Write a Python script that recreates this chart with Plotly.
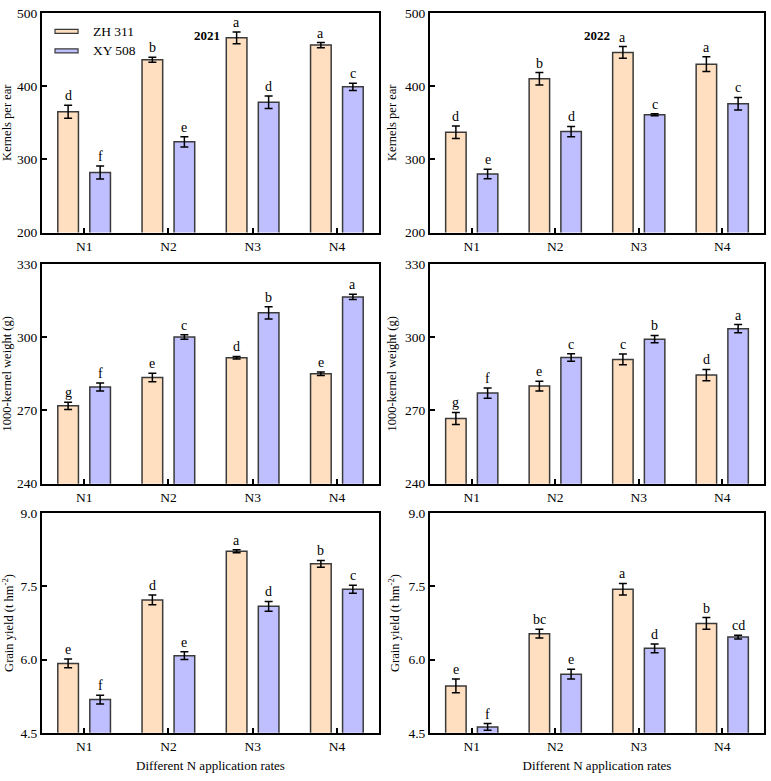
import plotly.graph_objects as go

# ---------------- data ----------------
categories = ["N1", "N2", "N3", "N4"]
cultivars = ["ZH 311", "XY 508"]
years = ["2021", "2022"]

# Kernels per ear
kpe_2021_zh = [365, 436, 466, 456]
kpe_2021_zh_err = [9, 3.5, 8, 3.5]
kpe_2021_xy = [282, 324, 378, 399]
kpe_2021_xy_err = [9, 7, 8.5, 5]
kpe_2021_zh_lbl = ["d", "b", "a", "a"]
kpe_2021_xy_lbl = ["f", "e", "d", "c"]

kpe_2022_zh = [337, 410, 446, 430]
kpe_2022_zh_err = [8.5, 8.5, 8, 10]
kpe_2022_xy = [280, 338, 361, 376]
kpe_2022_xy_err = [6.5, 7, 1.3, 8.5]
kpe_2022_zh_lbl = ["d", "b", "a", "a"]
kpe_2022_xy_lbl = ["e", "d", "c", "c"]

# 1000-kernel weight (g)
tkw_2021_zh = [271.9, 283.5, 291.6, 285.0]
tkw_2021_zh_err = [1.5, 1.7, 0.5, 0.7]
tkw_2021_xy = [279.6, 300.1, 310.0, 316.5]
tkw_2021_xy_err = [1.6, 0.9, 2.5, 1.1]
tkw_2021_zh_lbl = ["g", "e", "d", "e"]
tkw_2021_xy_lbl = ["f", "c", "b", "a"]

tkw_2022_zh = [266.7, 280.0, 290.9, 284.5]
tkw_2022_zh_err = [2.5, 2.0, 2.2, 2.3]
tkw_2022_xy = [277.1, 291.7, 299.2, 303.5]
tkw_2022_xy_err = [2.1, 1.5, 1.5, 1.7]
tkw_2022_zh_lbl = ["g", "e", "c", "d"]
tkw_2022_xy_lbl = ["f", "c", "b", "a"]

# Grain yield (t hm-2)
gy_2021_zh = [5.92, 7.22, 8.22, 7.96]
gy_2021_zh_err = [0.09, 0.10, 0.03, 0.07]
gy_2021_xy = [5.18, 6.08, 7.09, 7.44]
gy_2021_xy_err = [0.09, 0.08, 0.10, 0.08]
gy_2021_zh_lbl = ["e", "d", "a", "b"]
gy_2021_xy_lbl = ["f", "e", "d", "c"]

gy_2022_zh = [5.46, 6.53, 7.44, 6.74]
gy_2022_zh_err = [0.14, 0.09, 0.12, 0.12]
gy_2022_xy = [4.62, 5.70, 6.23, 6.46]
gy_2022_xy_err = [0.07, 0.10, 0.09, 0.04]
gy_2022_zh_lbl = ["e", "bc", "a", "b"]
gy_2022_xy_lbl = ["f", "e", "d", "cd"]

y_titles = ["Kernels per ear", "1000-kernel weight (g)", "Grain yield (t hm<sup>-2</sup>)"]
y_ranges = [[200, 500], [240, 330], [4.5, 9.0]]
y_ticks = [[200, 300, 400, 500], [240, 270, 300, 330], [4.5, 6.0, 7.5, 9.0]]
y_tickfmt = ["d", "d", ".1f"]
x_title = "Different N application rates"

panels = [
    [(kpe_2021_zh, kpe_2021_zh_err, kpe_2021_zh_lbl, kpe_2021_xy, kpe_2021_xy_err, kpe_2021_xy_lbl),
     (kpe_2022_zh, kpe_2022_zh_err, kpe_2022_zh_lbl, kpe_2022_xy, kpe_2022_xy_err, kpe_2022_xy_lbl)],
    [(tkw_2021_zh, tkw_2021_zh_err, tkw_2021_zh_lbl, tkw_2021_xy, tkw_2021_xy_err, tkw_2021_xy_lbl),
     (tkw_2022_zh, tkw_2022_zh_err, tkw_2022_zh_lbl, tkw_2022_xy, tkw_2022_xy_err, tkw_2022_xy_lbl)],
    [(gy_2021_zh, gy_2021_zh_err, gy_2021_zh_lbl, gy_2021_xy, gy_2021_xy_err, gy_2021_xy_lbl),
     (gy_2022_zh, gy_2022_zh_err, gy_2022_zh_lbl, gy_2022_xy, gy_2022_xy_err, gy_2022_xy_lbl)],
]

# ---------------- style ----------------
W, H = 771, 781
FONT = "Liberation Serif"
fill_colors = ["#FFDFBF", "#BFBFFF"]
edge_color = "#3a3a3a"
bar_offset = 0.19  # half distance between grouped bar centres (category units)

x_px = [(42, 379), (430, 764)]
y_px = [(6, 230), (262, 486), (516, 740)]

fig = go.Figure()
layout = dict(
    width=W, height=H,
    margin=dict(l=0, r=0, t=0, b=0),
    paper_bgcolor="white", plot_bgcolor="white",
    barmode="group", bargap=0.24, bargroupgap=0.355,
    showlegend=False,
    font=dict(family=FONT, size=13, color="black"),
)
annotations = []
shapes = []

idx = 0
for r in range(3):
    for c in range(2):
        idx += 1
        xa = "x" if idx == 1 else f"x{idx}"
        ya = "y" if idx == 1 else f"y{idx}"
        xkey = "xaxis" if idx == 1 else f"xaxis{idx}"
        ykey = "yaxis" if idx == 1 else f"yaxis{idx}"
        zh, zh_e, zh_l, xy, xy_e, xy_l = panels[r][c]
        for k, (vals, errs, name) in enumerate([(zh, zh_e, cultivars[0]), (xy, xy_e, cultivars[1])]):
            fig.add_trace(go.Bar(
                x=categories, y=vals, name=name,
                xaxis=xa, yaxis=ya,
                marker=dict(color=fill_colors[k], line=dict(color=edge_color, width=1.5)),
                error_y=dict(type="data", array=errs, visible=True, color="black",
                             thickness=1.5, width=4),
                showlegend=False,
            ))
        # significance letters
        for k, (vals, errs, lbls) in enumerate([(zh, zh_e, zh_l), (xy, xy_e, xy_l)]):
            sign = -1 if k == 0 else 1
            for i in range(len(categories)):
                annotations.append(dict(
                    x=i + sign * bar_offset, y=vals[i] + errs[i], xref=xa, yref=ya,
                    text=lbls[i], showarrow=False, yanchor="bottom", xanchor="center",
                    yshift=0, font=dict(family=FONT, size=14, color="black"),
                ))
        x0, x1 = x_px[c]
        yt, yb = y_px[r]
        xdict = dict(
            domain=[x0 / W, x1 / W], anchor=ya, type="category",
            range=[-0.5, len(categories) - 0.5],
            showline=True, linecolor="black", linewidth=2, mirror=True,
            ticks="inside", ticklen=5, tickwidth=2, tickcolor="black",
            showgrid=False, zeroline=False,
            tickfont=dict(family=FONT, size=13.5, color="black"),
        )
        if r == 2:
            xdict["title"] = dict(text=x_title, font=dict(family=FONT, size=13), standoff=8)
        layout[xkey] = xdict
        layout[ykey] = dict(
            domain=[1 - yb / H, 1 - yt / H], anchor=xa,
            range=y_ranges[r], tickvals=y_ticks[r], tickformat=y_tickfmt[r],
            showline=True, linecolor="black", linewidth=2, mirror=True,
            ticks="inside", ticklen=5, tickwidth=2, tickcolor="black",
            showgrid=False, zeroline=False,
            tickfont=dict(family=FONT, size=13.5, color="black"),
            title=dict(text=y_titles[r], font=dict(family=FONT, size=12.5), standoff=6),
        )
        if r == 0:
            annotations.append(dict(
                x=0.49 if c == 0 else 0.5, y=0.942,
                xref=f"{xa} domain", yref=f"{ya} domain",
                text=f"<b>{years[c]}</b>", showarrow=False,
                font=dict(family=FONT, size=13, color="black"),
            ))

# custom legend in first panel (wide flat swatches)
leg_rows = [(0.925, 0.907), (0.836, 0.818)]
for k, name in enumerate(cultivars):
    y1, y0 = leg_rows[k]
    shapes.append(dict(type="rect", xref="x domain", yref="y domain",
                       x0=0.0386, x1=0.107, y0=y0, y1=y1,
                       fillcolor=fill_colors[k], line=dict(color=edge_color, width=1.2)))
    annotations.append(dict(x=0.146, y=(y0 + y1) / 2, xref="x domain", yref="y domain",
                            text=name, showarrow=False, xanchor="left", yanchor="middle",
                            font=dict(family=FONT, size=13.5, color="black")))

layout["annotations"] = annotations
layout["shapes"] = shapes
fig.update_layout(**layout)
fig.write_html("out.html")
